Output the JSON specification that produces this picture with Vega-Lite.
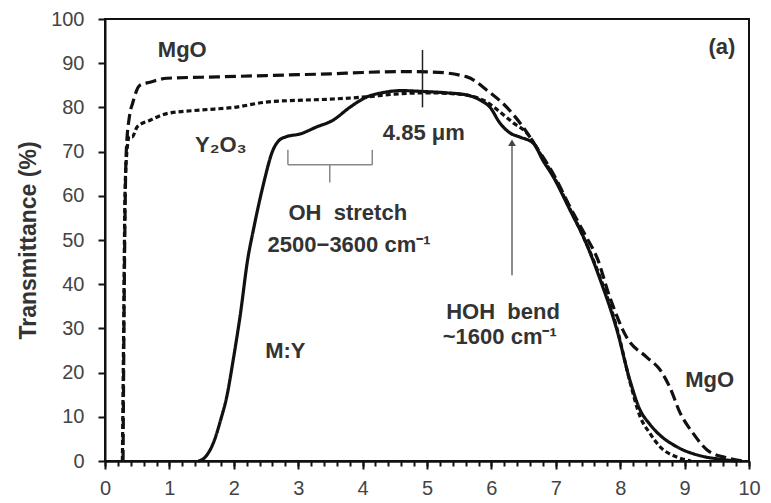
{
  "$schema": "https://vega.github.io/schema/vega-lite/v6.json",
  "width": 644,
  "height": 442,
  "autosize": {"type": "none"},
  "padding": {"left": 105, "top": 19, "right": 22, "bottom": 42},
  "background": "white",
  "config": {
    "view": {"stroke": "#111", "strokeWidth": 2},
    "font": "Liberation Sans",
    "axis": {"grid": false, "domainColor": "#111", "domainWidth": 2, "tickColor": "#111", "tickWidth": 2, "labelFont": "Liberation Sans", "labelFontSize": 20, "labelColor": "#444", "titleFont": "Liberation Sans"}
  },
  "resolve": {"axis": {"x": "independent"}},
  "datasets": {
    "curves": [
      {"series": "M:Y", "x": 1.45, "y": 0}, {"series": "M:Y", "x": 1.55, "y": 0.8}, {"series": "M:Y", "x": 1.68, "y": 4}, {"series": "M:Y", "x": 1.8, "y": 9.5}, {"series": "M:Y", "x": 1.89, "y": 14.5}, {"series": "M:Y", "x": 1.99, "y": 22.8}, {"series": "M:Y", "x": 2.1, "y": 33}, {"series": "M:Y", "x": 2.22, "y": 46}, {"series": "M:Y", "x": 2.3, "y": 52}, {"series": "M:Y", "x": 2.45, "y": 62}, {"series": "M:Y", "x": 2.61, "y": 70.4}, {"series": "M:Y", "x": 2.7, "y": 72.5}, {"series": "M:Y", "x": 2.8, "y": 73.3}, {"series": "M:Y", "x": 3.03, "y": 74}, {"series": "M:Y", "x": 3.29, "y": 75.6}, {"series": "M:Y", "x": 3.54, "y": 77.1}, {"series": "M:Y", "x": 3.8, "y": 80}, {"series": "M:Y", "x": 4.07, "y": 82.4}, {"series": "M:Y", "x": 4.3, "y": 83.3}, {"series": "M:Y", "x": 4.6, "y": 83.8}, {"series": "M:Y", "x": 4.94, "y": 83.6}, {"series": "M:Y", "x": 5.3, "y": 83.3}, {"series": "M:Y", "x": 5.62, "y": 82.8}, {"series": "M:Y", "x": 5.82, "y": 81.7}, {"series": "M:Y", "x": 5.98, "y": 80}, {"series": "M:Y", "x": 6.13, "y": 76.5}, {"series": "M:Y", "x": 6.29, "y": 74.2}, {"series": "M:Y", "x": 6.44, "y": 73.3}, {"series": "M:Y", "x": 6.65, "y": 71.9}, {"series": "M:Y", "x": 6.8, "y": 68}, {"series": "M:Y", "x": 6.96, "y": 64.3}, {"series": "M:Y", "x": 7.22, "y": 56.8}, {"series": "M:Y", "x": 7.45, "y": 50}, {"series": "M:Y", "x": 7.69, "y": 41}, {"series": "M:Y", "x": 7.95, "y": 29.6}, {"series": "M:Y", "x": 8.15, "y": 18.3}, {"series": "M:Y", "x": 8.31, "y": 11.5}, {"series": "M:Y", "x": 8.45, "y": 8.5}, {"series": "M:Y", "x": 8.57, "y": 6.5}, {"series": "M:Y", "x": 8.88, "y": 3.2}, {"series": "M:Y", "x": 9.24, "y": 1.2}, {"series": "M:Y", "x": 9.55, "y": 0.4}, {"series": "M:Y", "x": 9.8, "y": 0},
      {"series": "Y2O3", "x": 0.27, "y": 0}, {"series": "Y2O3", "x": 0.29, "y": 30}, {"series": "Y2O3", "x": 0.31, "y": 60}, {"series": "Y2O3", "x": 0.34, "y": 70}, {"series": "Y2O3", "x": 0.38, "y": 73.5}, {"series": "Y2O3", "x": 0.42, "y": 73.3}, {"series": "Y2O3", "x": 0.5, "y": 75.6}, {"series": "Y2O3", "x": 0.7, "y": 77.1}, {"series": "Y2O3", "x": 0.96, "y": 78.6}, {"series": "Y2O3", "x": 1.48, "y": 79.4}, {"series": "Y2O3", "x": 2.0, "y": 80}, {"series": "Y2O3", "x": 2.5, "y": 81.2}, {"series": "Y2O3", "x": 3.0, "y": 81.6}, {"series": "Y2O3", "x": 3.54, "y": 81.9}, {"series": "Y2O3", "x": 4.07, "y": 82.4}, {"series": "Y2O3", "x": 4.5, "y": 83}, {"series": "Y2O3", "x": 5.0, "y": 83.3}, {"series": "Y2O3", "x": 5.5, "y": 83}, {"series": "Y2O3", "x": 5.93, "y": 81.2}, {"series": "Y2O3", "x": 6.13, "y": 79}, {"series": "Y2O3", "x": 6.34, "y": 76.5}, {"series": "Y2O3", "x": 6.55, "y": 74.2}, {"series": "Y2O3", "x": 6.8, "y": 68.5}, {"series": "Y2O3", "x": 7.0, "y": 63.5}, {"series": "Y2O3", "x": 7.22, "y": 57}, {"series": "Y2O3", "x": 7.45, "y": 50}, {"series": "Y2O3", "x": 7.69, "y": 41.5}, {"series": "Y2O3", "x": 7.95, "y": 30}, {"series": "Y2O3", "x": 8.15, "y": 18}, {"series": "Y2O3", "x": 8.31, "y": 10}, {"series": "Y2O3", "x": 8.45, "y": 6.5}, {"series": "Y2O3", "x": 8.62, "y": 3.2}, {"series": "Y2O3", "x": 8.88, "y": 0.9}, {"series": "Y2O3", "x": 9.1, "y": 0},
      {"series": "MgO", "x": 0.28, "y": 0}, {"series": "MgO", "x": 0.3, "y": 40}, {"series": "MgO", "x": 0.33, "y": 70}, {"series": "MgO", "x": 0.38, "y": 78}, {"series": "MgO", "x": 0.43, "y": 81}, {"series": "MgO", "x": 0.54, "y": 85}, {"series": "MgO", "x": 0.7, "y": 85.7}, {"series": "MgO", "x": 0.96, "y": 86.6}, {"series": "MgO", "x": 1.74, "y": 86.9}, {"series": "MgO", "x": 2.5, "y": 87.2}, {"series": "MgO", "x": 3.0, "y": 87.4}, {"series": "MgO", "x": 3.5, "y": 87.6}, {"series": "MgO", "x": 4.0, "y": 87.9}, {"series": "MgO", "x": 4.58, "y": 88.1}, {"series": "MgO", "x": 5.09, "y": 88}, {"series": "MgO", "x": 5.62, "y": 86.9}, {"series": "MgO", "x": 5.93, "y": 83.9}, {"series": "MgO", "x": 6.24, "y": 80}, {"series": "MgO", "x": 6.49, "y": 75.6}, {"series": "MgO", "x": 6.7, "y": 71}, {"series": "MgO", "x": 6.96, "y": 65}, {"series": "MgO", "x": 7.22, "y": 57.5}, {"series": "MgO", "x": 7.48, "y": 50.5}, {"series": "MgO", "x": 7.64, "y": 46}, {"series": "MgO", "x": 7.84, "y": 37}, {"series": "MgO", "x": 8.1, "y": 28}, {"series": "MgO", "x": 8.41, "y": 23.5}, {"series": "MgO", "x": 8.62, "y": 20.6}, {"series": "MgO", "x": 8.77, "y": 16.7}, {"series": "MgO", "x": 8.93, "y": 10.9}, {"series": "MgO", "x": 9.13, "y": 6.3}, {"series": "MgO", "x": 9.35, "y": 2.5}, {"series": "MgO", "x": 9.66, "y": 0.7}, {"series": "MgO", "x": 9.9, "y": 0}
    ],
    "bracket": [
      {"x": 2.84, "x2": 2.84, "y": 70.4, "y2": 67},
      {"x": 2.84, "x2": 4.15, "y": 67, "y2": 67},
      {"x": 4.15, "x2": 4.15, "y": 67, "y2": 70.4},
      {"x": 3.49, "x2": 3.49, "y": 67, "y2": 63}
    ],
    "arrow": [{"x": 6.32, "x2": 6.32, "y": 42, "y2": 72}],
    "marker": [{"x": 4.93, "x2": 4.93, "y": 80, "y2": 93}],
    "labels": [
      {"x": 1.2, "y": 93, "text": "MgO"},
      {"x": 1.8, "y": 71.5, "text": "Y₂O₃"},
      {"x": 4.95, "y": 74.2, "text": "4.85 μm"},
      {"x": 3.77, "y": 56.1, "text": "OH\u00a0\u00a0stretch"},
      {"x": 3.79, "y": 48.9, "text": "2500−3600 cm⁻¹"},
      {"x": 6.18, "y": 33.7, "text": "HOH\u00a0\u00a0bend"},
      {"x": 6.13, "y": 28, "text": "~1600 cm⁻¹"},
      {"x": 2.8, "y": 25, "text": "M:Y"},
      {"x": 9.39, "y": 18.3, "text": "MgO"},
      {"x": 9.58, "y": 93.7, "text": "(a)"}
    ]
  },
  "layer": [
    {
      "data": {"name": "curves"},
      "mark": {"type": "line", "color": "#111", "strokeWidth": 3.2, "interpolate": "monotone", "strokeCap": "butt"},
      "encoding": {
        "x": {"field": "x", "type": "quantitative", "scale": {"domain": [0, 10], "nice": false},
          "axis": {"title": null, "orient": "bottom", "values": [0,1,2,3,4,5,6,7,8,9,10], "format": "d", "tickSize": 8, "labelPadding": 9, "labelFlush": false, "labelOverlap": false}},
        "y": {"field": "y", "type": "quantitative", "scale": {"domain": [0, 100], "nice": false},
          "axis": {"title": "Transmittance (%)", "values": [0,10,20,30,40,50,60,70,80,90,100], "tickSize": 7, "labelPadding": 14,
            "titleFontSize": 23, "titleFontWeight": "bold", "titleColor": "#333", "titlePadding": 10}},
        "strokeDash": {"field": "series", "type": "nominal", "scale": {"domain": ["MgO", "Y2O3", "M:Y"], "range": [[11, 5], [5, 3], [1, 0]]}, "legend": null}
      }
    },
    {
      "data": {"name": "bracket"},
      "mark": {"type": "rule", "color": "#888", "strokeWidth": 1.5},
      "encoding": {
        "x": {"field": "x", "type": "quantitative",
          "axis": {"title": null, "orient": "bottom", "values": [0,0.2,0.4,0.6,0.8,1,1.2,1.4,1.6,1.8,2,2.2,2.4,2.6,2.8,3,3.2,3.4,3.6,3.8,4,4.2,4.4,4.6,4.8,5,5.2,5.4,5.6,5.8,6,6.2,6.4,6.6,6.8,7,7.2,7.4,7.6,7.8,8,8.2,8.4,8.6,8.8,9,9.2,9.4,9.6,9.8,10], "labels": false, "tickSize": 5}},
        "x2": {"field": "x2"}, "y": {"field": "y", "type": "quantitative"}, "y2": {"field": "y2"}}
    },
    {
      "data": {"name": "arrow"},
      "mark": {"type": "rule", "color": "#666", "strokeWidth": 1.5},
      "encoding": {"x": {"field": "x", "type": "quantitative", "axis": null}, "x2": {"field": "x2"}, "y": {"field": "y", "type": "quantitative"}, "y2": {"field": "y2"}}
    },
    {
      "data": {"name": "arrow"},
      "mark": {"type": "point", "shape": "triangle-up", "filled": true, "color": "#444", "size": 60, "opacity": 1},
      "encoding": {"x": {"field": "x2", "type": "quantitative", "axis": null}, "y": {"field": "y2", "type": "quantitative"}}
    },
    {
      "data": {"name": "marker"},
      "mark": {"type": "rule", "color": "#222", "strokeWidth": 1.5},
      "encoding": {"x": {"field": "x", "type": "quantitative", "axis": null}, "x2": {"field": "x2"}, "y": {"field": "y", "type": "quantitative"}, "y2": {"field": "y2"}}
    },
    {
      "data": {"name": "labels"},
      "mark": {"type": "text", "font": "Liberation Sans", "fontSize": 22, "fontWeight": "bold", "color": "#333", "align": "center", "baseline": "middle"},
      "encoding": {"x": {"field": "x", "type": "quantitative", "axis": null}, "y": {"field": "y", "type": "quantitative"}, "text": {"field": "text"}}
    }
  ]
}
